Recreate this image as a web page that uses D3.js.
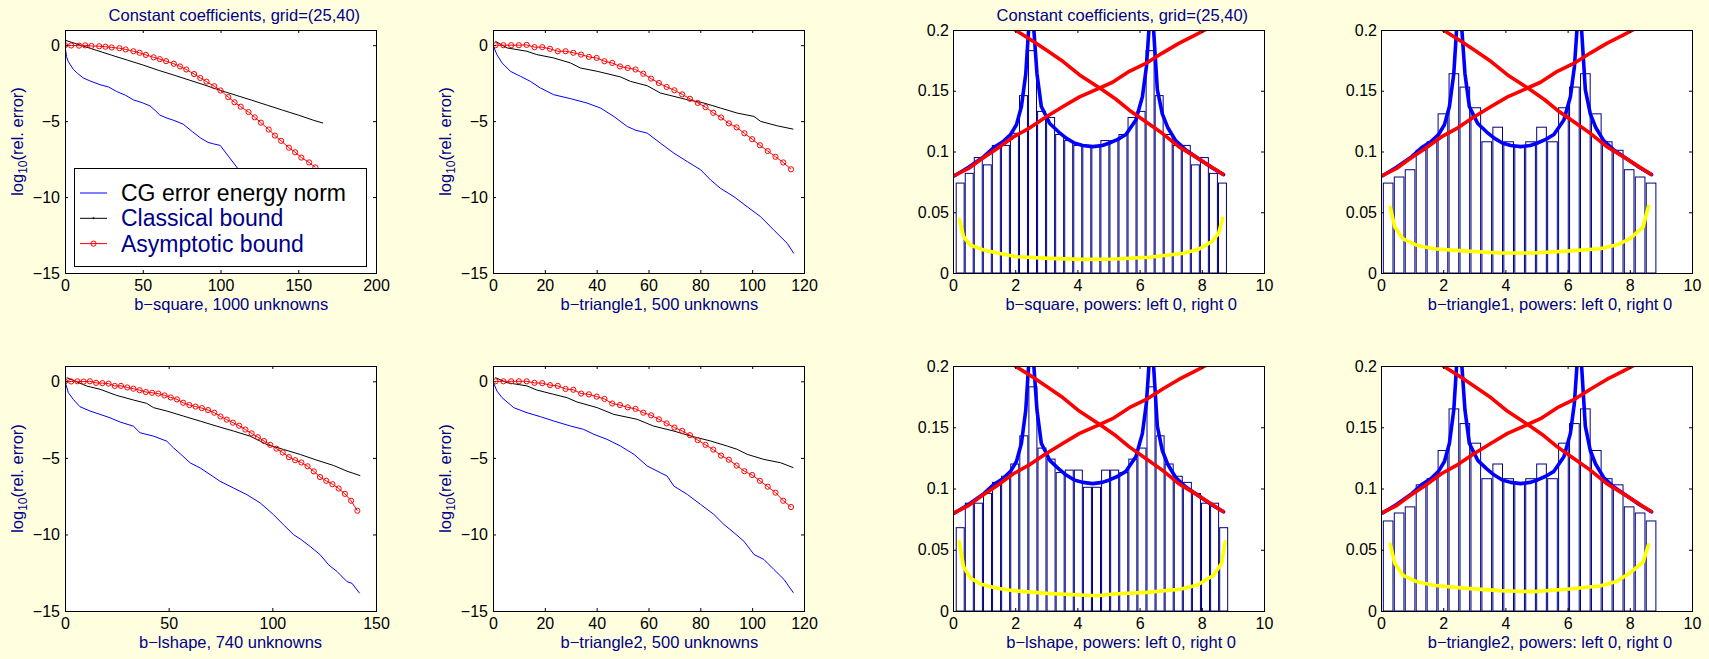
<!DOCTYPE html>
<html>
<head>
<meta charset="utf-8">
<script src="https://cdn.jsdelivr.net/npm/d3@7"></script>
<style>
  body { margin: 0; background: #ffffe0; }
  svg { display: block; }
  text { font-family: "Liberation Sans", Arial, Helvetica, sans-serif; }
</style>
</head>
<body>
<svg id="fig" width="1709" height="659"></svg>
<script>
// ---- convergence panels: [iteration, log10(rel. error)] ----
var titleText = "Constant coefficients, grid=(25,40)";
var convLabels = ["b\u2212square, 1000 unknowns", "b\u2212triangle1, 500 unknowns",
                  "b\u2212lshape, 740 unknowns", "b\u2212triangle2, 500 unknowns"];
var convXMax = [200, 120, 150, 120];
var convXTicks = [[0, 50, 100, 150, 200], [0, 20, 40, 60, 80, 100, 120],
                  [0, 50, 100, 150], [0, 20, 40, 60, 80, 100, 120]];
var convYTicks = [-15, -10, -5, 0];
var legendLabels = ["CG error energy norm", "Classical bound", "Asymptotic bound"];

var cgSquare = [[0,0],[0.5,-0.4],[1,-0.75],[2,-1.06],[3.5,-1.3],[5.4,-1.6],[8,-1.85],[11.8,-2.16],[16,-2.35],
  [22.5,-2.6],[28,-2.75],[33,-3.04],[39,-3.3],[44,-3.6],[50,-3.8],[54.7,-4.0],[58,-4.3],[61,-4.6],[65.5,-4.8],
  [70,-4.95],[76,-5.2],[82,-5.7],[87,-6.1],[92,-6.4],[95.5,-6.5],[99.8,-6.6],[105,-7.3],[111,-8.1],[120,-9.3],
  [130,-10.6],[140,-11.8],[150,-12.9],[160,-13.8],[166,-14.3]];
var classicalSquare = [[0,0.33],[10,0.0],[20,-0.33],[30,-0.66],[40,-0.98],[50,-1.3],[60,-1.65],[70,-1.97],
  [80,-2.3],[90,-2.63],[100,-2.98],[110,-3.3],[120,-3.62],[130,-3.95],[140,-4.28],[150,-4.6],[160,-4.95],[166,-5.13]];
var asymSquare = [[0,0],[4,-0.02],[9,-0.03],[13,-0.01],[17,-0.05],[22,-0.07],[26,-0.1],[30,-0.15],[35,-0.2],
  [39,-0.28],[44,-0.4],[48,-0.5],[52,-0.64],[57,-0.8],[61,-0.92],[65,-1.05],[70,-1.22],[74,-1.4],[78,-1.6],
  [83,-1.9],[87,-2.16],[91,-2.4],[96,-2.7],[100,-2.98],[105,-3.42],[109,-3.76],[113,-4.05],[118,-4.4],
  [122,-4.75],[126,-5.1],[131,-5.55],[135,-5.95],[139,-6.3],[144,-6.75],[148,-7.05],[152,-7.4],[157,-7.72],[161,-8.05]];

var cgTri1 = [[0,0],[1.5,-0.62],[3.5,-1.17],[6.7,-1.72],[10.6,-2.05],[14.4,-2.38],[18.3,-2.82],[23.4,-3.26],
  [29.9,-3.52],[36.3,-3.81],[41.5,-4.14],[46.6,-4.69],[51.8,-5.35],[55,-5.6],[59.5,-5.79],[64.6,-6.45],
  [69.8,-7.11],[75,-7.67],[80.1,-8.2],[84,-8.88],[87.8,-9.43],[93,-9.98],[98.1,-10.64],[103.3,-11.3],
  [108.4,-12.18],[113.6,-13.06],[116.1,-13.72]];
var classicalTri1 = [[0.9,0.26],[5.4,-0.18],[13.1,-0.4],[16.9,-0.62],[23.4,-0.84],[29.9,-1.17],[33.7,-1.5],
  [40.2,-1.72],[49.2,-2.09],[53,-2.38],[59.5,-2.67],[64.6,-3.15],[69.8,-3.37],[74.9,-3.59],[81.4,-3.81],
  [87.8,-4.14],[94.2,-4.47],[100.7,-4.69],[103.3,-5.02],[109.7,-5.31],[115.9,-5.53]];
var asymTri1 = [[1,0],[4,0],[7,0],[10,0],[13,0.02],[16,-0.13],[19,-0.13],[22,-0.24],[25,-0.4],[28,-0.4],
  [31,-0.5],[34,-0.62],[37,-0.77],[40,-0.84],[43,-1.06],[46,-1.17],[49,-1.4],[52,-1.5],[55,-1.6],[58,-1.88],
  [61,-2.2],[64,-2.49],[67,-2.75],[70,-2.97],[73,-3.24],[76,-3.53],[79,-3.8],[82,-4.08],[85,-4.45],[88,-4.76],
  [91,-5.15],[94,-5.41],[97,-5.8],[100,-6.19],[103,-6.59],[106,-6.97],[109,-7.35],[112,-7.72],[115,-8.17]];

var cgLshape = [[0,0],[1.6,-0.74],[4,-1.18],[7.2,-1.66],[12.1,-1.94],[16.9,-2.16],[21.7,-2.38],[26.6,-2.66],
  [33,-2.93],[36.2,-3.36],[42.7,-3.58],[49.1,-3.91],[52.3,-4.34],[55.5,-4.72],[60.4,-5.33],[65.2,-5.66],
  [70,-6.09],[74.8,-6.53],[81.3,-6.97],[87.7,-7.4],[94.2,-7.95],[100.6,-8.71],[105.4,-9.37],[110.3,-10.02],
  [113.5,-10.3],[118.3,-10.79],[123.1,-11.33],[127.2,-11.99],[131.2,-12.42],[136,-13.08],[138.4,-13.19],[142.1,-13.84]];
var classicalLshape = [[0.8,0.24],[10.5,-0.31],[16.9,-0.52],[24.9,-0.92],[33,-1.22],[39.4,-1.44],[42.7,-1.72],
  [49.1,-1.94],[57.1,-2.27],[65.2,-2.6],[73.2,-2.93],[81.3,-3.25],[89.3,-3.58],[94.2,-3.91],[97.4,-4.13],
  [105.4,-4.45],[113.5,-4.78],[121.5,-5.15],[129.6,-5.5],[136,-5.87],[142.4,-6.16]];
var asymLshape = [[0,0],[3,-0.01],[6,0],[9,-0.02],[12,0],[15,-0.1],[18,-0.12],[21,-0.15],[24,-0.3],[27,-0.3],
  [30,-0.4],[33,-0.48],[36,-0.58],[39,-0.7],[42,-0.75],[45,-0.8],[48,-0.92],[51,-1.05],[54,-1.18],[57,-1.4],
  [60,-1.55],[63,-1.65],[66,-1.75],[69,-1.88],[72,-2.05],[75,-2.3],[78,-2.5],[81,-2.7],[84,-2.9],[87,-3.15],
  [90,-3.4],[93,-3.65],[96,-3.9],[99,-4.15],[102,-4.4],[105,-4.65],[108,-4.95],[111,-5.15],[114,-5.3],
  [117,-5.55],[120,-5.88],[123,-6.25],[126,-6.5],[129,-6.72],[132,-7.0],[135,-7.35],[138,-7.8],[141,-8.45]];

var cgTri2 = [[0,0],[1.5,-0.63],[3.5,-1.07],[8,-1.72],[13.1,-2.05],[18.3,-2.31],[23.4,-2.59],[29.9,-2.92],
  [35,-3.14],[38.9,-3.46],[44,-3.79],[49.2,-4.23],[54.4,-4.77],[59.5,-5.53],[64.6,-5.97],[67.2,-6.19],
  [69.8,-6.84],[75,-7.39],[80.1,-8.04],[85.2,-8.69],[89.1,-9.35],[93,-9.89],[96.8,-10.44],[100.7,-11.31],
  [104.5,-11.63],[108.4,-12.29],[112.3,-12.94],[115.9,-13.81]];
var classicalTri2 = [[0.9,0.24],[5.4,-0.09],[13.1,-0.3],[16.9,-0.57],[23.4,-0.85],[28.6,-1.07],[32.4,-1.35],
  [40.2,-1.72],[46.6,-2.16],[55.6,-2.48],[61.9,-2.92],[69.8,-3.25],[76.2,-3.57],[84,-3.9],[90.4,-4.23],
  [94.2,-4.44],[98.1,-4.77],[104.5,-5.1],[111,-5.32],[115.9,-5.64]];
var asymTri2 = [[1,0],[4,0],[7,0],[10,0],[13,0],[16,-0.1],[19,-0.12],[22,-0.25],[25,-0.3],[28,-0.5],
  [31,-0.55],[34,-0.8],[37,-0.85],[40,-1.0],[43,-1.15],[46,-1.45],[49,-1.55],[52,-1.7],[55,-1.8],[58,-2.05],
  [61,-2.22],[64,-2.48],[67,-2.75],[70,-3.02],[73,-3.24],[76,-3.52],[79,-3.84],[82,-4.15],[85,-4.46],
  [88,-4.85],[91,-5.12],[94,-5.5],[97,-5.87],[100,-6.12],[103,-6.5],[106,-6.88],[109,-7.27],[112,-7.8],[115,-8.21]];

// ---- spectrum panels ----
var histLabels = ["b\u2212square, powers: left 0, right 0", "b\u2212triangle1, powers: left 0, right 0",
                  "b\u2212lshape, powers: left 0, right 0", "b\u2212triangle2, powers: left 0, right 0"];
var histXTicks = [0, 2, 4, 6, 8, 10];
var histYTicks = [0, 0.05, 0.1, 0.15, 0.2];
// bar heights, and the interval [first bar left, last bar right] they cover
var barsSquare = [0.074,0.082,0.095,0.089,0.105,0.105,0.115,0.146,0.183,0.133,0.128,0.114,0.109,0.105,0.105,
  0.104,0.109,0.109,0.114,0.128,0.133,0.183,0.146,0.114,0.105,0.105,0.089,0.095,0.082,0.074];
var barsTri1 = [0.074,0.079,0.085,0.101,0.108,0.131,0.164,0.153,0.136,0.108,0.120,0.108,0.104,0.108,0.120,
  0.108,0.136,0.153,0.164,0.131,0.108,0.101,0.085,0.079,0.074];
var barsLshape = [0.068,0.088,0.088,0.096,0.105,0.110,0.120,0.143,0.183,0.133,0.124,0.113,0.115,0.115,0.101,
  0.101,0.115,0.115,0.113,0.124,0.133,0.183,0.143,0.120,0.110,0.105,0.096,0.088,0.088,0.068];
var barsTri2 = [0.0735,0.080,0.085,0.103,0.108,0.131,0.165,0.153,0.137,0.108,0.120,0.108,0.104,0.108,0.120,
  0.108,0.137,0.153,0.165,0.131,0.108,0.103,0.085,0.080,0.0735];
var barSpans = [[0.085, 8.81], [0.054, 8.86], [0.086, 8.85], [0.054, 8.86]];

var densityCurve = [[0.05,0.080],[0.5,0.087],[1.0,0.096],[1.3,0.103],[1.6,0.108],[1.85,0.114],[2.04,0.122],
  [2.2,0.137],[2.34,0.164],[2.43,0.2],[2.51,0.24],[2.6,0.2],[2.7,0.164],[2.84,0.137],[3.11,0.123],[3.4,0.116],
  [3.64,0.111],[3.9,0.107],[4.17,0.105],[4.49,0.104],[4.8,0.105],[5.03,0.107],[5.3,0.110],[5.56,0.114],
  [5.88,0.126],[6.09,0.145],[6.22,0.17],[6.3,0.2],[6.37,0.24],[6.45,0.2],[6.57,0.151],[6.73,0.131],[6.9,0.12],
  [7.16,0.109],[7.5,0.101],[7.9,0.094],[8.3,0.087],[8.7,0.081]];
var boundRising = [[0,0.0797],[0.5,0.086],[0.87,0.093],[1.4,0.102],[1.94,0.112],[2.47,0.1195],[3.0,0.1286],
  [3.54,0.137],[4.07,0.145],[4.6,0.151],[5.13,0.157],[5.67,0.166],[6.2,0.1725],[6.73,0.181],[7.26,0.189],
  [7.8,0.196],[8.1,0.2],[8.3,0.204]];
var boundFalling = [[1.8,0.204],[2.0,0.2],[2.5,0.192],[3.0,0.1835],[3.54,0.174],[4.07,0.163],[4.79,0.151],
  [5.24,0.143],[5.67,0.134],[6.2,0.1245],[6.73,0.115],[7.26,0.104],[7.8,0.0956],[8.68,0.0813]];
var lowSquare = [[0.21,0.044],[0.34,0.030],[0.55,0.023],[0.98,0.019],[1.51,0.016],[2.04,0.0134],[3.11,0.012],
  [4.17,0.0112],[5.24,0.0115],[6.3,0.0129],[7.37,0.016],[7.9,0.0195],[8.33,0.026],[8.54,0.0326],[8.67,0.045]];
var lowTri1 = [[0.30,0.054],[0.44,0.038],[0.71,0.028],[1.14,0.023],[1.67,0.020],[2.75,0.018],[3.82,0.0165],
  [4.89,0.0165],[5.97,0.018],[7.04,0.020],[7.57,0.023],[8.0,0.028],[8.43,0.038],[8.6,0.055]];
var lowLshape = [[0.2,0.0566],[0.34,0.036],[0.56,0.027],[0.88,0.022],[1.41,0.0185],[1.95,0.0166],[3.02,0.0144],
  [4.09,0.013],[4.63,0.0125],[5.16,0.0139],[6.23,0.0152],[7.3,0.0177],[7.84,0.021],[8.37,0.029],[8.64,0.039],[8.75,0.0566]];
var lowTri2 = [[0.30,0.0544],[0.44,0.039],[0.71,0.029],[1.14,0.024],[1.67,0.021],[2.75,0.0185],[3.82,0.0166],
  [4.89,0.0158],[5.97,0.0177],[7.04,0.0204],[7.57,0.024],[8.0,0.031],[8.43,0.040],[8.6,0.054]];

// ---- layout ----
var panelLeft = [65, 493, 953, 1381];
var panelWidth = 311;
var rowTop = [30, 366];
var rowBottom = [273, 611];
var navy = "#000088";
var font = '"Liberation Sans", Arial, Helvetica, sans-serif';

var svg = d3.select("#fig");
svg.append("rect").attr("width", 1709).attr("height", 659).attr("fill", "#ffffe0");

function minusFmt(d) { return d < 0 ? "\u2212" + (-d) : String(d); }

// label centred a bit to the right, the way the original renderer placed it
function label(g, text, cx, y, size, color) {
    var t = g.append("text").attr("x", cx).attr("y", y)
        .attr("text-anchor", "middle").attr("font-size", size)
        .attr("fill", color).text(text);
    t.attr("dx", t.node().getComputedTextLength() * 0.055);
    return t;
}

function makeFrame(col, row, xDom, yDom, xTicks, yTicks, yFmt, yPad) {
    var h = rowBottom[row] - rowTop[row];
    var g = svg.append("g")
        .attr("transform", "translate(" + panelLeft[col] + "," + rowTop[row] + ")");
    var x = d3.scaleLinear().domain(xDom).range([0, panelWidth]);
    var y = d3.scaleLinear().domain(yDom).range([h, 0]);

    g.append("rect").attr("width", panelWidth).attr("height", h).attr("fill", "#fff");
    var clipId = "clip" + col + row;
    g.append("clipPath").attr("id", clipId)
        .append("rect").attr("width", panelWidth + 1).attr("height", h + 1);
    var plot = g.append("g").attr("clip-path", "url(#" + clipId + ")");

    // axes box with inward ticks on all four sides
    var ax = g.append("g");
    ax.append("g").attr("transform", "translate(0," + h + ")")
        .call(d3.axisBottom(x).tickValues(xTicks).tickSize(-3).tickPadding(7).tickFormat(String));
    ax.append("g")
        .call(d3.axisTop(x).tickValues(xTicks).tickSize(-3).tickFormat(""));
    ax.append("g")
        .call(d3.axisLeft(y).tickValues(yTicks).tickSize(-3).tickPadding(yPad).tickFormat(yFmt));
    ax.append("g").attr("transform", "translate(" + panelWidth + ",0)")
        .call(d3.axisRight(y).tickValues(yTicks).tickSize(-3).tickFormat(""));
    ax.selectAll(".domain").remove();
    ax.selectAll("g").attr("font-family", font).attr("font-size", 16);
    ax.selectAll("text").attr("fill", "#000");
    ax.append("rect").attr("x", 0.5).attr("y", 0.5)
        .attr("width", panelWidth).attr("height", h)
        .attr("fill", "none").attr("stroke", "#000");

    return { g: g, plot: plot, x: x, y: y, h: h };
}

function convPanel(col, row, k, cg, classical, asym) {
    var f = makeFrame(col, row, [0, convXMax[k]], [-15, 1], convXTicks[k], convYTicks, minusFmt, 5);
    var line = d3.line().x(function(d) { return f.x(d[0]); }).y(function(d) { return f.y(d[1]); });

    f.plot.append("path").datum(cg).attr("d", line)
        .attr("fill", "none").attr("stroke", "#0000ff").attr("stroke-width", 1);
    f.plot.append("path").datum(classical).attr("d", line)
        .attr("fill", "none").attr("stroke", "#000").attr("stroke-width", 1);
    f.plot.append("path").datum(asym).attr("d", line)
        .attr("fill", "none").attr("stroke", "#ff0000").attr("stroke-width", 1);
    f.plot.selectAll("circle").data(asym).join("circle")
        .attr("cx", function(d) { return f.x(d[0]); })
        .attr("cy", function(d) { return f.y(d[1]); })
        .attr("r", 2.6).attr("fill", "none").attr("stroke", "#ff0000").attr("stroke-width", 1);

    label(f.g, convLabels[k], panelWidth / 2, f.h + 37, 16.5, navy);

    var yl = f.g.append("text").attr("transform", "rotate(-90)")
        .attr("x", -(f.h / 2 - 10)).attr("y", -42)
        .attr("text-anchor", "middle").attr("font-size", 16.5).attr("fill", navy);
    yl.append("tspan").text("log");
    yl.append("tspan").attr("font-size", 12).attr("dy", 4).text("10");
    yl.append("tspan").attr("dy", -4).text("(rel. error)");
    return f;
}

function histPanel(col, row, k, bars, low) {
    var f = makeFrame(col, row, [0, 10], [0, 0.2], histXTicks, histYTicks, String, 4);
    var line = d3.line().x(function(d) { return f.x(d[0]); }).y(function(d) { return f.y(d[1]); });
    var lo = barSpans[k][0], hi = barSpans[k][1];
    var pitch = (hi - lo) / bars.length;

    f.plot.selectAll("rect.bar").data(bars).join("rect").attr("class", "bar")
        .attr("x", function(d, i) { return f.x(lo + (i + 0.06) * pitch); })
        .attr("width", f.x(0.88 * pitch) - f.x(0))
        .attr("y", function(d) { return f.y(d); })
        .attr("height", function(d) { return f.y(0) - f.y(d); })
        .attr("fill", "#fff").attr("stroke", "#000080").attr("stroke-width", 1);

    [[densityCurve, "#0000ff"], [boundRising, "#ff0000"], [boundFalling, "#ff0000"], [low, "#ffff00"]]
        .forEach(function(c) {
            f.plot.append("path").datum(c[0]).attr("d", line)
                .attr("fill", "none").attr("stroke", c[1]).attr("stroke-width", 3.6)
                .attr("stroke-linejoin", "round").attr("stroke-linecap", "round");
        });

    label(f.g, histLabels[k], panelWidth / 2, f.h + 37, 16.5, navy);
    return f;
}

var p1 = convPanel(0, 0, 0, cgSquare, classicalSquare, asymSquare);
convPanel(1, 0, 1, cgTri1, classicalTri1, asymTri1);
convPanel(0, 1, 2, cgLshape, classicalLshape, asymLshape);
convPanel(1, 1, 3, cgTri2, classicalTri2, asymTri2);
var p3 = histPanel(2, 0, 0, barsSquare, lowSquare);
histPanel(3, 0, 1, barsTri1, lowTri1);
histPanel(2, 1, 2, barsLshape, lowLshape);
histPanel(3, 1, 3, barsTri2, lowTri2);

label(p1.g, titleText, panelWidth / 2, -9.5, 16.5, navy);
label(p3.g, titleText, panelWidth / 2, -9.5, 16.5, navy);

// legend in the first panel
var lg = p1.g.append("g").attr("transform", "translate(9,138)");
lg.append("rect").attr("x", 0.5).attr("y", 0.5).attr("width", 292).attr("height", 98)
    .attr("fill", "#fff").attr("stroke", "#000");
var legendColors = ["#0000ff", "#000", "#ff0000"];
var legendText = ["#000", navy, navy];
legendLabels.forEach(function(name, i) {
    var ly = 25 + i * 25.3;
    lg.append("line").attr("x1", 6).attr("x2", 33).attr("y1", ly).attr("y2", ly)
        .attr("stroke", legendColors[i]).attr("stroke-width", 1);
    if (i === 1) {
        lg.append("circle").attr("cx", 19.5).attr("cy", ly).attr("r", 1).attr("fill", "#000");
    }
    if (i === 2) {
        lg.append("circle").attr("cx", 19.5).attr("cy", ly).attr("r", 2.6)
            .attr("fill", "none").attr("stroke", "#ff0000");
    }
    lg.append("text").attr("x", 47).attr("y", ly + 8).attr("font-size", 23)
        .attr("fill", legendText[i]).text(name);
});
</script>
</body>
</html>
